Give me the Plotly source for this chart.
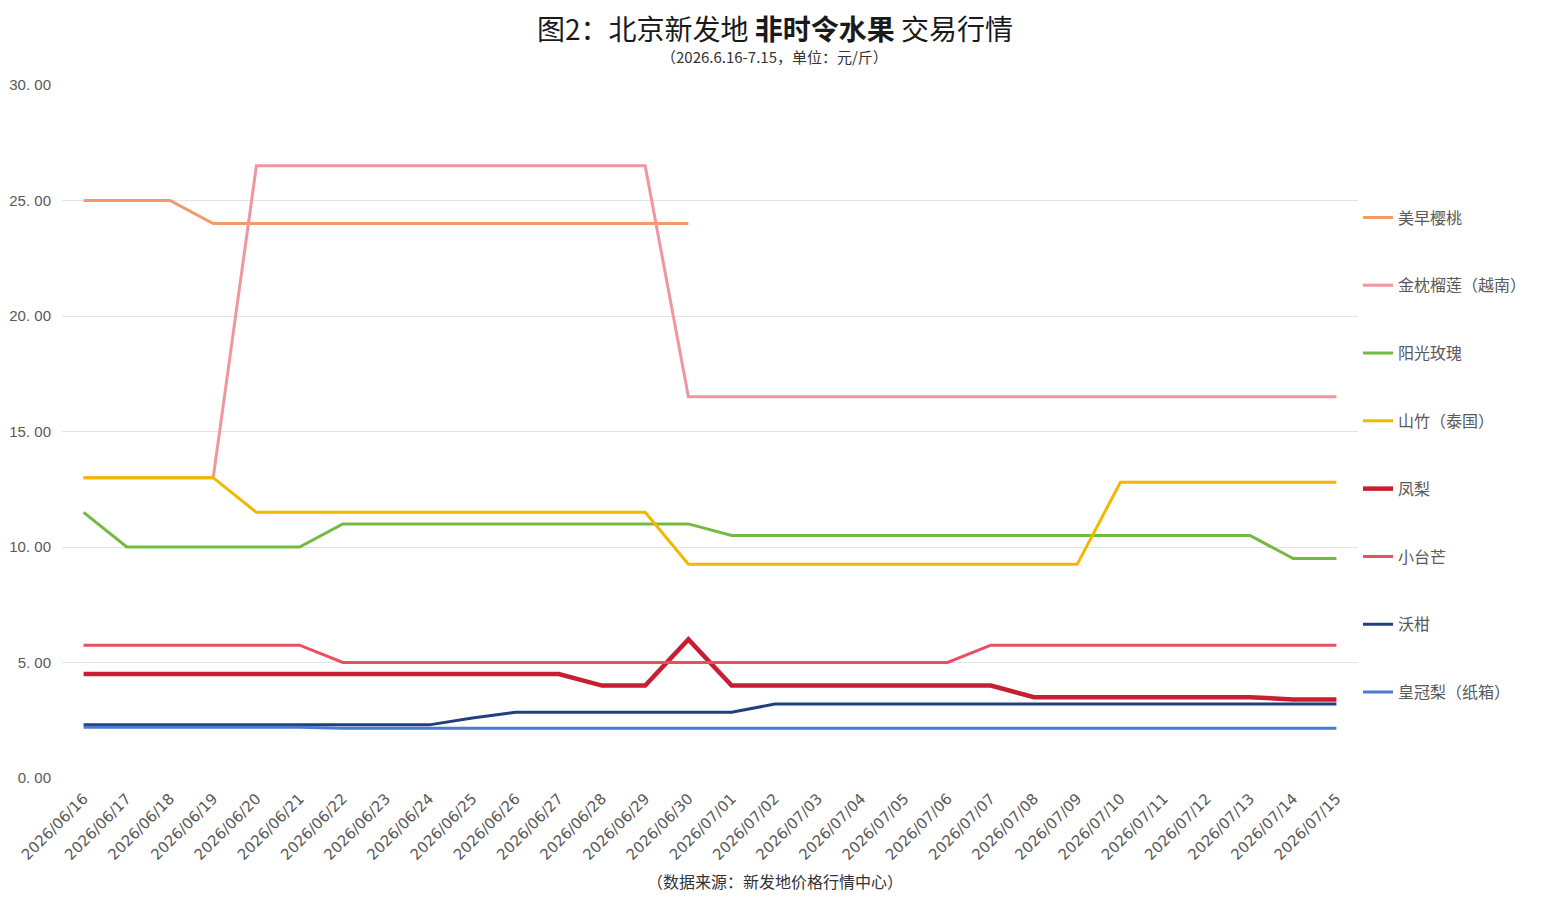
import plotly.graph_objects as go

dates = ["2026/06/16", "2026/06/17", "2026/06/18", "2026/06/19", "2026/06/20",
         "2026/06/21", "2026/06/22", "2026/06/23", "2026/06/24", "2026/06/25",
         "2026/06/26", "2026/06/27", "2026/06/28", "2026/06/29", "2026/06/30",
         "2026/07/01", "2026/07/02", "2026/07/03", "2026/07/04", "2026/07/05",
         "2026/07/06", "2026/07/07", "2026/07/08", "2026/07/09", "2026/07/10",
         "2026/07/11", "2026/07/12", "2026/07/13", "2026/07/14", "2026/07/15"]

cherry = [25, 25, 25, 24, 24, 24, 24, 24, 24, 24, 24, 24, 24, 24, 24,
          None, None, None, None, None, None, None, None, None, None,
          None, None, None, None, None]
durian = [13, 13, 13, 13, 26.5, 26.5, 26.5, 26.5, 26.5, 26.5, 26.5, 26.5, 26.5, 26.5, 16.5,
          16.5, 16.5, 16.5, 16.5, 16.5, 16.5, 16.5, 16.5, 16.5, 16.5,
          16.5, 16.5, 16.5, 16.5, 16.5]
grape = [11.5, 10, 10, 10, 10, 10, 11, 11, 11, 11, 11, 11, 11, 11, 11,
         10.5, 10.5, 10.5, 10.5, 10.5, 10.5, 10.5, 10.5, 10.5, 10.5,
         10.5, 10.5, 10.5, 9.5, 9.5]
mangosteen = [13, 13, 13, 13, 11.5, 11.5, 11.5, 11.5, 11.5, 11.5, 11.5, 11.5, 11.5, 11.5, 9.25,
              9.25, 9.25, 9.25, 9.25, 9.25, 9.25, 9.25, 9.25, 9.25, 12.8,
              12.8, 12.8, 12.8, 12.8, 12.8]
pineapple = [4.5, 4.5, 4.5, 4.5, 4.5, 4.5, 4.5, 4.5, 4.5, 4.5, 4.5, 4.5, 4.0, 4.0, 6.0,
             4.0, 4.0, 4.0, 4.0, 4.0, 4.0, 4.0, 3.5, 3.5, 3.5,
             3.5, 3.5, 3.5, 3.4, 3.4]
mango = [5.75, 5.75, 5.75, 5.75, 5.75, 5.75, 5.0, 5.0, 5.0, 5.0, 5.0, 5.0, 5.0, 5.0, 5.0,
         5.0, 5.0, 5.0, 5.0, 5.0, 5.0, 5.75, 5.75, 5.75, 5.75,
         5.75, 5.75, 5.75, 5.75, 5.75]
orange = [2.3, 2.3, 2.3, 2.3, 2.3, 2.3, 2.3, 2.3, 2.3, 2.6, 2.85, 2.85, 2.85, 2.85, 2.85,
          2.85, 3.2, 3.2, 3.2, 3.2, 3.2, 3.2, 3.2, 3.2, 3.2,
          3.2, 3.2, 3.2, 3.2, 3.2]
pear = [2.2, 2.2, 2.2, 2.2, 2.2, 2.2, 2.15, 2.15, 2.15, 2.15, 2.15, 2.15, 2.15, 2.15, 2.15,
        2.15, 2.15, 2.15, 2.15, 2.15, 2.15, 2.15, 2.15, 2.15, 2.15,
        2.15, 2.15, 2.15, 2.15, 2.15]

names = ["美早樱桃", "金枕榴莲（越南）", "阳光玫瑰", "山竹（泰国）", "凤梨", "小台芒", "沃柑", "皇冠梨（纸箱）"]
series = [cherry, durian, grape, mangosteen, pineapple, mango, orange, pear]
colors = ["#F19B68", "#EF96A1", "#72BB40", "#F3B700", "#C81E32", "#E84F62", "#213F7E", "#4A7BCD"]
widths = [3, 3, 3, 3, 4.5, 3, 3, 3]

y_tickvals = [0, 5, 10, 15, 20, 25, 30]
y_ticktext = ["0. 00", "5. 00", "10. 00", "15. 00", "20. 00", "25. 00", "30. 00"]

fig = go.Figure()
for i, (n, s, c, w) in enumerate(zip(names, series, colors, widths)):
    fig.add_trace(go.Scatter(
        x=dates, y=s, name=n, mode="lines",
        line=dict(color=c, width=w),
        legendgroup="g%d" % i,
        connectgaps=False,
    ))

fig.update_layout(
    width=1544, height=899,
    margin=dict(l=62, r=186, t=85, b=121, autoexpand=False),
    paper_bgcolor="white", plot_bgcolor="white",
    font=dict(family="Noto Sans CJK SC", color="#595959"),
    showlegend=True,
    legend=dict(
        x=1.0, xanchor="left", y=0.8333, yanchor="top",
        font=dict(size=16, color="#595959", family="Noto Sans CJK SC"),
        tracegroupgap=44, itemwidth=30,
        bgcolor="rgba(0,0,0,0)",
    ),
    hovermode=False,
    xaxis=dict(
        type="category", range=[-0.5, 29.5], automargin=False,
        tickangle=-45, showgrid=False, showline=False, zeroline=False,
        tickfont=dict(family="DejaVu Sans", size=15, color="#595959"),
        ticks="", ticklabelstandoff=8,
    ),
    yaxis=dict(
        range=[0, 30], tickvals=y_tickvals, ticktext=y_ticktext, automargin=False,
        showgrid=True, gridcolor="#E3E3E3", gridwidth=1, zeroline=False,
        showline=False,
        tickfont=dict(family="Liberation Sans", size=15, color="#595959"),
        ticklabelstandoff=10,
    ),
)

fig.add_annotation(
    xref="paper", yref="paper", x=(775 - 62) / 1296, y=1 + (85 - 28) / 693,
    text="图2：北京新发地 <b>非时令水果</b> 交易行情",
    showarrow=False, xanchor="center", yanchor="middle",
    font=dict(size=28, color="#1A1A1A", family="Noto Sans CJK SC"),
)
fig.add_annotation(
    xref="paper", yref="paper", x=(775 - 62) / 1296, y=1 + (85 - 56) / 693,
    text="（2026.6.16-7.15，单位：元/斤）",
    showarrow=False, xanchor="center", yanchor="middle",
    font=dict(size=15, color="#333333", family="Noto Sans CJK SC"),
)
fig.add_annotation(
    xref="paper", yref="paper", x=(775 - 62) / 1296, y=-(881 - 778) / 693,
    text="（数据来源：新发地价格行情中心）",
    showarrow=False, xanchor="center", yanchor="middle",
    font=dict(size=16, color="#333333", family="Noto Sans CJK SC"),
)

fig.write_html("out.html")
